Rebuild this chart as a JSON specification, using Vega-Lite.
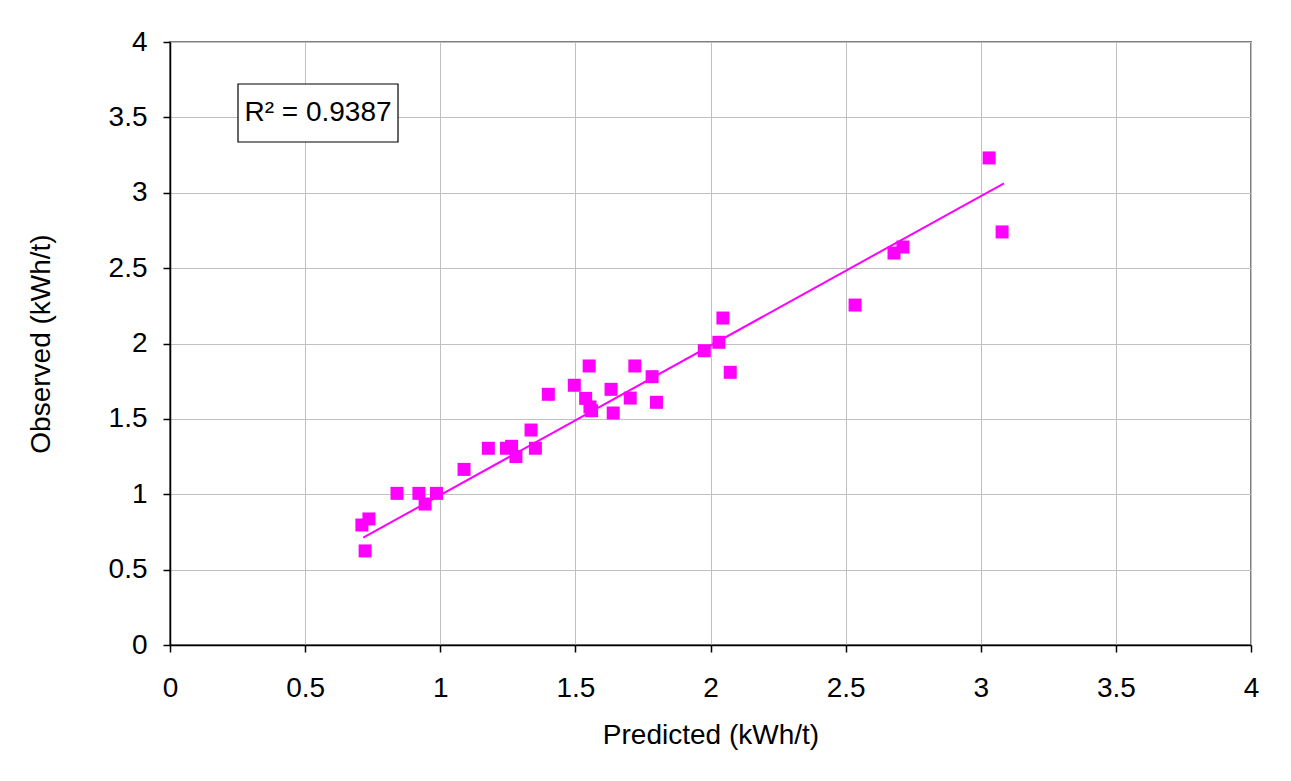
{
  "$schema": "https://vega.github.io/schema/vega-lite/v6.json",
  "width": 1081,
  "height": 603,
  "autosize": "none",
  "padding": {"left": 170, "top": 42, "right": 40, "bottom": 136},
  "background": "white",
  "config": {
    "font": "Liberation Sans",
    "view": {"stroke": "#808080", "strokeWidth": 2},
    "axis": {
      "labelFont": "Liberation Sans",
      "titleFont": "Liberation Sans",
      "labelFontSize": 28,
      "titleFontSize": 28,
      "titleFontWeight": "normal",
      "labelColor": "black",
      "titleColor": "black",
      "domainColor": "black",
      "domainWidth": 1.5,
      "tickColor": "black",
      "tickWidth": 1.5,
      "tickSize": 7,
      "gridColor": "#c0c0c0",
      "gridWidth": 1,
      "labelFlush": false,
      "labelOverlap": false,
      "format": "~g"
    }
  },
  "datasets": {
    "points": [
      {"predicted": 0.710, "observed": 0.796},
      {"predicted": 0.736, "observed": 0.836},
      {"predicted": 0.722, "observed": 0.624},
      {"predicted": 0.840, "observed": 1.006},
      {"predicted": 0.921, "observed": 1.006},
      {"predicted": 0.944, "observed": 0.935},
      {"predicted": 0.986, "observed": 1.006},
      {"predicted": 1.088, "observed": 1.165},
      {"predicted": 1.178, "observed": 1.305},
      {"predicted": 1.245, "observed": 1.305},
      {"predicted": 1.264, "observed": 1.318},
      {"predicted": 1.280, "observed": 1.250},
      {"predicted": 1.336, "observed": 1.426},
      {"predicted": 1.352, "observed": 1.305},
      {"predicted": 1.400, "observed": 1.663},
      {"predicted": 1.496, "observed": 1.723},
      {"predicted": 1.538, "observed": 1.636},
      {"predicted": 1.551, "observed": 1.851},
      {"predicted": 1.554, "observed": 1.579},
      {"predicted": 1.560, "observed": 1.554},
      {"predicted": 1.632, "observed": 1.696},
      {"predicted": 1.640, "observed": 1.539},
      {"predicted": 1.703, "observed": 1.638},
      {"predicted": 1.720, "observed": 1.851},
      {"predicted": 1.784, "observed": 1.780},
      {"predicted": 1.800, "observed": 1.610},
      {"predicted": 1.977, "observed": 1.952},
      {"predicted": 2.031, "observed": 2.008},
      {"predicted": 2.046, "observed": 2.169},
      {"predicted": 2.073, "observed": 1.809},
      {"predicted": 2.535, "observed": 2.255},
      {"predicted": 2.679, "observed": 2.600},
      {"predicted": 2.712, "observed": 2.640},
      {"predicted": 3.031, "observed": 3.231},
      {"predicted": 3.079, "observed": 2.740}
    ],
    "trend": [
      {"predicted": 0.715, "observed": 0.712},
      {"predicted": 3.086, "observed": 3.063}
    ],
    "note": [
      {"label": "R² = 0.9387", "x": 0.5476, "y": 3.529, "x1": 0.2516, "x2": 0.8437, "y1": 3.7214, "y2": 3.3367}
    ]
  },
  "layer": [
    {
      "data": {"name": "points"},
      "mark": {"type": "point", "shape": "square", "filled": true, "size": 169, "color": "#FF00FF", "opacity": 1},
      "encoding": {
        "x": {
          "field": "predicted",
          "type": "quantitative",
          "scale": {"domain": [0, 4], "nice": false, "zero": false},
          "axis": {
            "title": "Predicted (kWh/t)",
            "values": [0, 0.5, 1, 1.5, 2, 2.5, 3, 3.5, 4],
            "labelPadding": 22,
            "titlePadding": 19
          }
        },
        "y": {
          "field": "observed",
          "type": "quantitative",
          "scale": {"domain": [0, 4], "nice": false, "zero": false},
          "axis": {
            "title": "Observed (kWh/t)",
            "values": [0, 0.5, 1, 1.5, 2, 2.5, 3, 3.5, 4],
            "labelPadding": 16,
            "titlePadding": 53
          }
        }
      }
    },
    {
      "data": {"name": "trend"},
      "mark": {"type": "line", "color": "#FF00FF", "strokeWidth": 2},
      "encoding": {
        "x": {"field": "predicted", "type": "quantitative"},
        "y": {"field": "observed", "type": "quantitative"}
      }
    },
    {
      "data": {"name": "note"},
      "mark": {"type": "rect", "fill": "white", "stroke": "black", "strokeWidth": 1.2},
      "encoding": {
        "x": {"field": "x1", "type": "quantitative"},
        "x2": {"field": "x2"},
        "y": {"field": "y1", "type": "quantitative"},
        "y2": {"field": "y2"}
      }
    },
    {
      "data": {"name": "note"},
      "mark": {"type": "text", "fontSize": 28, "align": "center", "baseline": "middle", "color": "black", "font": "Liberation Sans"},
      "encoding": {
        "x": {"field": "x", "type": "quantitative"},
        "y": {"field": "y", "type": "quantitative"},
        "text": {"field": "label"}
      }
    }
  ]
}
